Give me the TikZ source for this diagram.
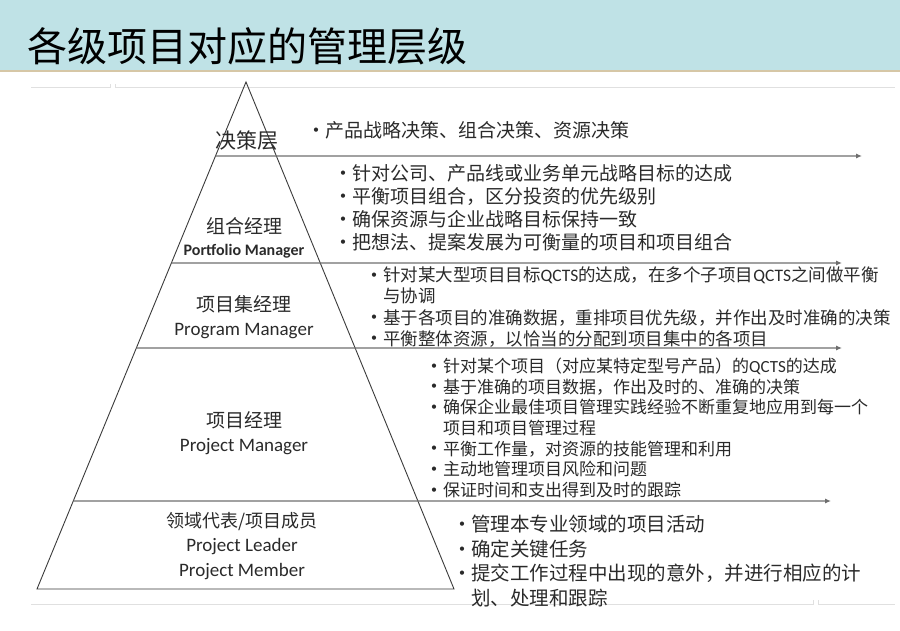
\documentclass[tikz,border=0pt]{standalone}
\usepackage{fontspec}
\setmainfont{Noto Sans CJK SC}
\newfontfamily\lat{Carlito}
\usetikzlibrary{positioning,calc,arrows.meta}
\definecolor{band}{HTML}{BFE2E6}
\definecolor{bandline}{HTML}{D6C7A6}
\definecolor{faint}{HTML}{E0E0E0}
\definecolor{txt}{HTML}{2A2A2A}
\definecolor{edge}{HTML}{3A3A3A}
\definecolor{sepline}{HTML}{6E6E6E}
\newcommand\bul{\makebox[13pt][l]{\hspace*{1pt}\raisebox{0.2em}{\lat\fontsize{12}{12}\selectfont\textbullet}}}
\newcommand\cont{\hspace*{13pt}}

\begin{document}
\begin{tikzpicture}[x=1pt,y=-1pt,
	lab/.style={text=txt, align=center, inner sep=0pt,
				font=\fontsize{19}{24}\selectfont},
	blk/.style={text=txt, align=left, anchor=west, inner sep=0pt},
	level/.style={draw=sepline, line width=1.1pt,
				  -{Latex[length=6pt,width=5pt]}},
	faintline/.style={draw=faint, line width=1pt}
]
	\useasboundingbox (0,0) rectangle (900,631);
	% title band
	\fill[band] (0,0) rectangle (900,70);
	\draw[bandline, line width=2pt] (0,71) -- (900,71);
	\node (title) [anchor=west, inner sep=0pt, font=\fontsize{40}{44}\selectfont] at (27,46) {各级项目对应的管理层级};
	\draw[faintline] (31,88) -- (110,88) -- (110,84);
	\draw[faintline] (115,84) -- (115,88) -- (895,88);
	\draw[faintline] (31,604) -- (813,604) -- (813,600);
	\draw[faintline] (818,600) -- (818,604) -- (895,604);

	% pyramid
	\coordinate (apex) at (246,82);
	\coordinate (bl) at (37,589);
	\coordinate (br) at (454,589);
	\draw[edge, line width=0.9pt] (apex) -- (br) -- (bl) -- cycle;
	\foreach \y/\xe [count=\i] in {156/862, 263/842, 348/842, 501/831}{
		\coordinate (s\i) at ($(apex)!{(\y-82)/507}!(bl)$);
		\coordinate (e\i) at (\xe,\y);
		\draw[level] (s\i) -- (e\i);
	}

	\node (dec) [lab, font=\fontsize{21}{24}\selectfont] at (247,141) {决策层};
	\node (pfm) [lab] at (244,238) {组合经理\\[-2pt]{\lat\bfseries\fontsize{16}{20}\selectfont Portfolio Manager}};
	\node (pgm) [lab] at (244,317) {项目集经理\\{\lat Program Manager}};
	\node (pjm) [lab] at (244,433) {项目经理\\{\lat Project Manager}};
	\node (mem) [lab, font=\fontsize{18}{24.5}\selectfont] at (242,546) {领域代表/项目成员\\{\lat\fontsize{19}{24.5}\selectfont Project Leader}\\{\lat\fontsize{19}{24.5}\selectfont Project Member}};

	% duties of each level
	\node (decduty) [blk, font=\fontsize{19}{23}\selectfont] at (312,130) {\bul 产品战略决策、组合决策、资源决策};
	\node (pfmduty) [blk, font=\fontsize{19}{23}\selectfont] at (339,207.5) {\bul 针对公司、产品线或业务单元战略目标的达成\\
		\bul 平衡项目组合，区分投资的优先级别\\
		\bul 确保资源与企业战略目标保持一致\\
		\bul 把想法、提案发展为可衡量的项目和项目组合};
	\node (pgmduty) [blk, font=\fontsize{17.5}{21.3}\selectfont] at (370,307) {\bul 针对某大型项目目标{\lat QCTS}的达成，在多个子项目{\lat QCTS}之间做平衡\\
		\cont 与协调\\
		\bul 基于各项目的准确数据，重排项目优先级，并作出及时准确的决策\\
		\bul 平衡整体资源，以恰当的分配到项目集中的各项目};
	\node (pjmduty) [blk, font=\fontsize{17}{20.7}\selectfont] at (430,428) {\bul 针对某个项目（对应某特定型号产品）的{\lat QCTS}的达成\\
		\bul 基于准确的项目数据，作出及时的、准确的决策\\
		\bul 确保企业最佳项目管理实践经验不断重复地应用到每一个\\
		\cont 项目和项目管理过程\\
		\bul 平衡工作量，对资源的技能管理和利用\\
		\bul 主动地管理项目风险和问题\\
		\bul 保证时间和支出得到及时的跟踪};
	\node (memduty) [blk, font=\fontsize{19.5}{24.7}\selectfont] at (458,561) {\bul 管理本专业领域的项目活动\\
		\bul 确定关键任务\\
		\bul 提交工作过程中出现的意外，并进行相应的计\\
		\cont 划、处理和跟踪};
\end{tikzpicture}
\end{document}
